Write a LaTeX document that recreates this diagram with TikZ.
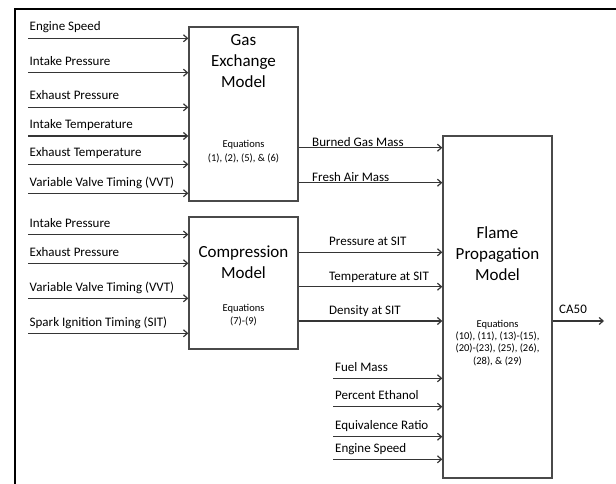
\documentclass[tikz,border=0pt]{standalone}
\usepackage{fontspec}
\setmainfont{Carlito}
\usetikzlibrary{arrows.meta, positioning, calc}
\definecolor{lgray}{HTML}{353535}
\definecolor{bgray}{HTML}{4A4A4A}

\begin{document}
\begin{tikzpicture}[x=1pt, y=-1pt,
  blk/.style={draw=bgray, line width=1.3pt, minimum width=109pt, inner sep=0pt},
  feed/.style={draw=lgray, line width=1.2pt, -{Straight Barb[length=4pt, width=7pt]}},
  lbl/.style={font=\fontsize{13}{15}\selectfont, anchor=base west, inner sep=0pt},
  ttl/.style={font=\fontsize{17}{21}\selectfont, align=center, anchor=base, inner sep=0pt},
  eqn/.style={font=\fontsize{10.5}{12.5}\selectfont, align=center, anchor=base, inner sep=0pt}]
\useasboundingbox (0,0) rectangle (616,484);
% frame
\draw[black, line width=2.4pt] (15,484) -- (15,9) -- (616,9);

% model blocks
\node[blk, minimum height=174pt] (gas) at (243.5,114) {};
\node[blk, minimum height=132pt] (comp) at (243.5,283) {};
\node[blk, minimum height=342pt] (flame) at (497.5,307) {};

\node[ttl] (gasT) at (243.5,87.3) {Gas\\Exchange\\Model};
\node[eqn, font=\fontsize{10.5}{14.3}\selectfont] (gasE) at (243.5,161.7) {Equations\\(1), (2), (5), \& (6)};
\node[ttl] (compT) at (243.5,278.3) {Compression\\Model};
\node[eqn] (compE) at (243.5,324) {Equations\\(7)-(9)};
\node[ttl] (flameT) at (497.5,280) {Flame\\Propagation\\Model};
\node[eqn, font=\fontsize{10.5}{12.3}\selectfont] (flameE) at (497.5,364) {Equations\\(10), (11), (13)-(15),\\(20)-(23), (25), (26),\\(28), \& (29)};

% inputs to gas exchange
\foreach \y/\txt [count=\i] in {38.3/Engine Speed, 72.7/Intake Pressure,
    107.3/Exhaust Pressure, 136/Intake Temperature,
    164.3/Exhaust Temperature, 193.3/Variable Valve Timing (VVT)} {
  \coordinate (gin\i) at (28,\y);
  \draw[feed] (gin\i) -- (gin\i -| gas.west);
  \node[lbl] (ginL\i) at ($(gin\i)+(1.5,-7.3)$) {\txt};
}

% inputs to compression
\foreach \y/\txt [count=\i] in {234.5/Intake Pressure, 263.3/Exhaust Pressure,
    298.3/Variable Valve Timing (VVT), 333.3/Spark Ignition Timing (SIT)} {
  \coordinate (cin\i) at (28,\y);
  \draw[feed] (cin\i) -- (cin\i -| comp.west);
  \node[lbl] (cinL\i) at ($(cin\i)+(1.5,-7)$) {\txt};
}

% gas exchange -> flame propagation
\foreach \y/\txt [count=\i] in {147.7/Burned Gas Mass, 182.7/Fresh Air Mass} {
  \coordinate (gout\i) at (0,\y);
  \draw[feed] (gas.east |- gout\i) -- (flame.west |- gout\i);
  \node[lbl] (goutL\i) at (312,\y-1.5) {\txt};
}

% compression -> flame propagation
\foreach \y/\txt [count=\i] in {252.3/Pressure at SIT, 286.7/Temperature at SIT,
    321/Density at SIT} {
  \coordinate (cout\i) at (0,\y);
  \draw[feed] (comp.east |- cout\i) -- (flame.west |- cout\i);
  \node[lbl] (coutL\i) at (329,\y-6.5) {\txt};
}

% other inputs to flame propagation
\foreach \y/\txt [count=\i] in {378.3/Fuel Mass, 406.7/Percent Ethanol,
    436.7/Equivalence Ratio, 459.3/Engine Speed} {
  \coordinate (fin\i) at (333,\y);
  \draw[feed] (fin\i) -- (fin\i -| flame.west);
  \node[lbl] (finL\i) at ($(fin\i)+(2,-7)$) {\txt};
}

% output
\coordinate (ca50) at (604,321);
\draw[feed] (flame.east |- ca50) -- (ca50);
\node[lbl] (ca50L) at (559,313.5) {CA50};
\end{tikzpicture}
\end{document}
